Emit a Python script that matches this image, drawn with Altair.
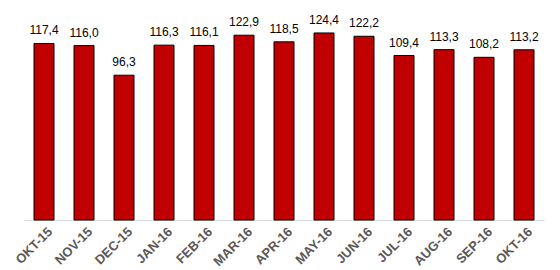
import altair as alt
import pandas as pd

months = ["OKT-15", "NOV-15", "DEC-15", "JAN-16", "FEB-16", "MAR-16", "APR-16",
          "MAY-16", "JUN-16", "JUL-16", "AUG-16", "SEP-16", "OKT-16"]
values = [117.4, 116.0, 96.3, 116.3, 116.1, 122.9, 118.5, 124.4, 122.2, 109.4, 113.3, 108.2, 113.2]
labels = [f"{v:.1f}".replace(".", ",") for v in values]

df = pd.DataFrame({"month": months, "value": values, "label": labels})

x = alt.X("month:N", sort=months, title=None,
          scale=alt.Scale(paddingInner=0.5, paddingOuter=0.25),
          axis=alt.Axis(labelAngle=-45, labelAlign="right", labelBaseline="top",
                        labelFont="Liberation Sans", labelFontSize=13, labelFontWeight="bold",
                        labelColor="#595959", labelPadding=5, labelOffset=2, ticks=False,
                        domainColor="#d9d9d9", domainWidth=1))
y = alt.Y("value:Q", scale=alt.Scale(domain=[0, 140], nice=False), axis=None)

bars = alt.Chart(df).mark_bar(color="#c00000", stroke="#000000", strokeWidth=1).encode(x=x, y=y)
text = alt.Chart(df).mark_text(baseline="bottom", dy=-6, font="Liberation Sans",
                               fontSize=12, color="#000000").encode(x=x, y=y, text="label:N")

chart = (bars + text).properties(
    width=520, height=210.5,
    autosize=alt.AutoSizeParams(type="none"),
    padding={"left": 24, "top": 9.5, "right": 16, "bottom": 50},
    background="white",
).configure_view(stroke=None)

chart.save("out.html", embed_options={"renderer": "svg", "actions": False})
